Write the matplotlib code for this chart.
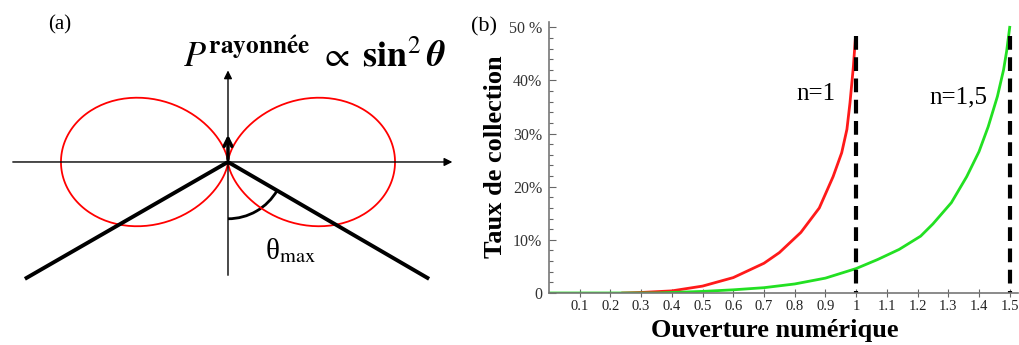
import numpy as np
import matplotlib.pyplot as plt
from matplotlib.patches import Arc

plt.rcParams['font.family'] = ['Liberation Serif', 'DejaVu Serif']
plt.rcParams['mathtext.fontset'] = 'stix'

# collection efficiency (%)
na_n1 = [0.24, 0.30, 0.40, 0.50, 0.60, 0.70, 0.75, 0.82, 0.88, 0.925, 0.953, 0.97,
         0.98, 0.991, 0.997]
eff_n1 = [0.0, 0.1, 0.4, 1.3, 2.9, 5.6, 7.6, 11.4, 16.0, 21.9, 26.4, 30.8,
          35.8, 42.6, 47.5]

na_n15 = [0.0, 0.35, 0.40, 0.50, 0.60, 0.70, 0.80, 0.90, 1.00, 1.07, 1.14, 1.21,
          1.25, 1.31, 1.36, 1.40, 1.43, 1.46, 1.48, 1.49, 1.50]
eff_n15 = [0.0, 0.0, 0.1, 0.3, 0.6, 1.0, 1.7, 2.8, 4.6, 6.3, 8.2, 10.7,
           13.0, 17.0, 21.9, 26.6, 31.3, 37.0, 42.0, 45.5, 50.0]

na_limits = [1.0, 1.5]
xticks = [0.1, 0.2, 0.3, 0.4, 0.5, 0.6, 0.7, 0.8, 0.9, 1.0, 1.1, 1.2, 1.3, 1.4, 1.5]
xticklabels = ['0.1', '0.2', '0.3', '0.4', '0.5', '0.6', '0.7', '0.8', '0.9', '1',
               '1.1', '1.2', '1.3', '1.4', '1.5']
yticks = [0, 10, 20, 30, 40, 50]
yticklabels = ['0', '10%', '20%', '30%', '40%', '50 %']

W, H = 1019, 345
fig = plt.figure(figsize=(W / 100, H / 100), dpi=100)

# ---------- (a) dipole radiation diagram ----------
ax1 = fig.add_axes([0, 0, 460 / W, 1])
ax1.set_xlim(-1.365, 1.389)
ax1.set_ylim(-1.096, 0.970)
ax1.axis('off')

th = np.linspace(0, 2 * np.pi, 400)
r = np.sin(th) ** 2
ax1.plot(r * np.sin(th), r * np.cos(th), color='#ff0000', lw=1.3)

ax1.annotate('', xy=(1.36, 0), xytext=(-1.305, 0),
             arrowprops=dict(arrowstyle='-|>', color='black', lw=1, mutation_scale=12))
ax1.annotate('', xy=(0, 0.565), xytext=(0, -0.695),
             arrowprops=dict(arrowstyle='-|>', color='black', lw=1, mutation_scale=12))
ax1.annotate('', xy=(0, 0.18), xytext=(0, 0),
             arrowprops=dict(arrowstyle='->', color='black', lw=2.5, mutation_scale=14))

ax1.plot([-1.216, 0, 1.204], [-0.70, 0, -0.70], color='black', lw=2.8,
         solid_capstyle='butt')
ax1.add_patch(Arc((0, 0), 0.68, 0.68, theta1=-90, theta2=-30, color='black', lw=2))

ax1.text(0.22, -0.53, r'θ$_{\rm max}$', fontsize=21, va='center', ha='left')
ax1.text(-0.27, 0.575, r'$P^{\mathbf{rayonnée}}\ \propto\ \mathbf{sin}^{2}\,\boldsymbol{\theta}$',
         fontsize=26, va='baseline', ha='left')
ax1.text(-1.01, 0.82, '(a)', fontsize=15, va='center', ha='center')

# ---------- (b) collection efficiency ----------
ax2 = fig.add_axes([549 / W, 52 / H, 469 / W, 271 / H])
ax2.plot(na_n1, eff_n1, color='#ff1a1a', lw=2)
ax2.plot(na_n15, eff_n15, color='#22e022', lw=2)
for na in na_limits:
    # drawn top-down so a full dash starts at the top
    ax2.plot([na, na], [48.3, 0], color='black', lw=3, linestyle=(0, (3.3, 1.8)),
             solid_capstyle='butt')

ax2.set_xlim(0, 1.527)
ax2.set_ylim(0, 51)
ax2.set_xticks(xticks)
ax2.set_xticklabels(xticklabels, fontsize=10.5)
ax2.set_yticks(yticks)
ax2.set_yticklabels(yticklabels, fontsize=11.5, color='#333333')
ax2.set_yticks(np.arange(0, 51, 2), minor=True)
ax2.tick_params(axis='x', direction='inout', length=6, width=0.8, color='#666666',
                pad=2, labelcolor='#222222')
ax2.tick_params(axis='y', which='major', direction='in', length=5, width=0.8,
                color='#666666', pad=5)
ax2.tick_params(axis='y', which='minor', direction='in', length=3, width=0.8,
                color='#666666')
for s in ['top', 'right']:
    ax2.spines[s].set_visible(False)
for s in ['left', 'bottom']:
    ax2.spines[s].set_color('#777777')
    ax2.spines[s].set_linewidth(1.2)

ax2.text(0.87, 37.4, 'n=1', fontsize=18, ha='center', va='center')
ax2.text(1.332, 36.8, 'n=1,5', fontsize=18, ha='center', va='center')

fig.text(496 / W, 1 - 157 / H, 'Taux de collection', rotation=90, fontsize=19,
         fontweight='bold', ha='center', va='center')
fig.text(775 / W, 1 - 331 / H, 'Ouverture numérique', fontsize=19,
         fontweight='bold', ha='center', va='center')
fig.text(484 / W, 1 - 27 / H, '(b)', fontsize=16, ha='center', va='center')

fig.savefig('out.png', dpi=100)
